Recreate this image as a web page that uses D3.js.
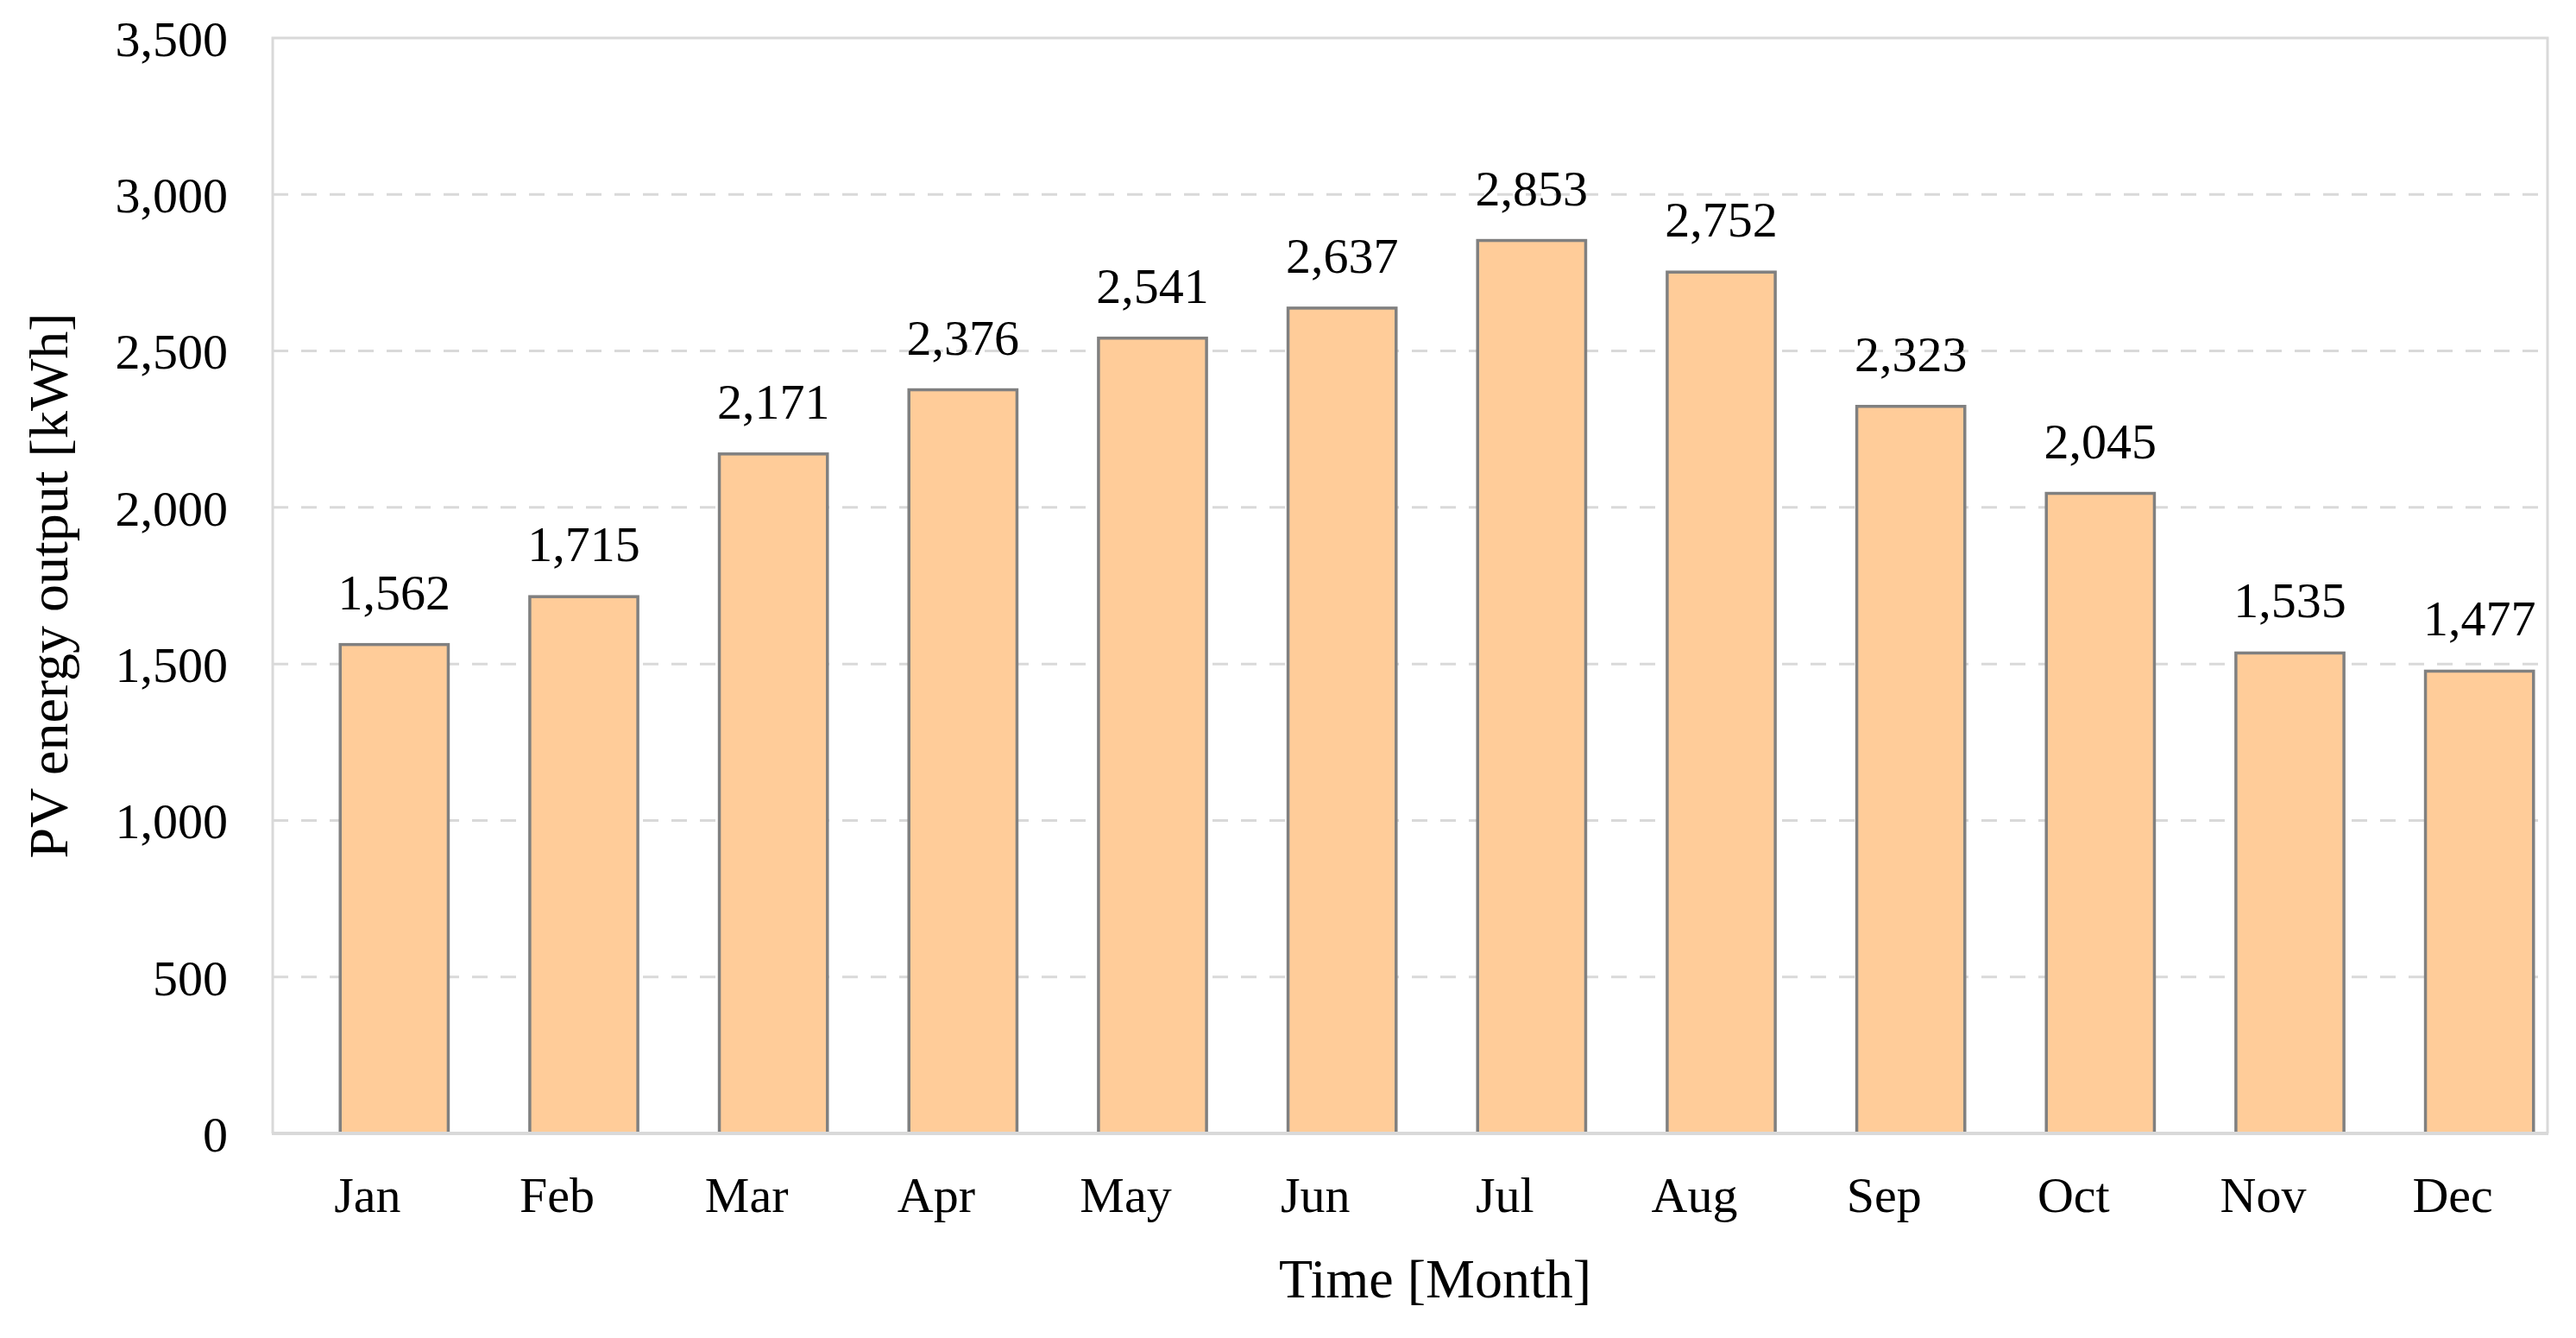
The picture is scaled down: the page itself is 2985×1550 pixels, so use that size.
<!DOCTYPE html>
<html>
<head>
<meta charset="utf-8">
<script src="https://cdn.jsdelivr.net/npm/d3@7"></script>
<style>
  html, body { margin: 0; padding: 0; background: #fff; }
  svg { display: block; }
  text { font-family: "Liberation Serif", "Times New Roman", serif; fill: #000; }
</style>
</head>
<body>
<svg id="chart" width="2985" height="1550"></svg>
<script>
const months = ["Jan","Feb","Mar","Apr","May","Jun","Jul","Aug","Sep","Oct","Nov","Dec"];
const pvOutput = [1562, 1715, 2171, 2376, 2541, 2637, 2853, 2752, 2323, 2045, 1535, 1477];
const yTicks = [0, 500, 1000, 1500, 2000, 2500, 3000, 3500];
const xTitle = "Time [Month]";
const yTitle = "PV energy output [kWh]";

const W = 2985, H = 1550;
const plot = { left: 316, right: 2952, top: 44, bottom: 1313 };
const barShift = 31;

const svg = d3.select("#chart");
const fmt = d3.format(",");

const x = d3.scaleBand().domain(months).range([plot.left, plot.right])
  .paddingInner(0.43).paddingOuter(0.215);
const y = d3.scaleLinear().domain([0, 3500]).range([plot.bottom, plot.top]);

// gridlines
svg.append("g").selectAll("line")
  .data(yTicks.filter(t => t > 0 && t < 3500))
  .join("line")
  .attr("x1", plot.left).attr("x2", plot.right)
  .attr("y1", d => y(d)).attr("y2", d => y(d))
  .attr("stroke", "#d9d9d9").attr("stroke-width", 3)
  .attr("stroke-dasharray", "18,15");

// frame
svg.append("path")
  .attr("d", `M${plot.left},${plot.bottom}V${plot.top}H${plot.right}V${plot.bottom}`)
  .attr("fill", "none").attr("stroke", "#d9d9d9").attr("stroke-width", 3);

// bars
svg.append("g").selectAll("rect")
  .data(months.map((m, i) => ({ m, v: pvOutput[i] })))
  .join("rect")
  .attr("x", d => x(d.m) + barShift)
  .attr("width", x.bandwidth())
  .attr("y", d => y(d.v))
  .attr("height", d => y(0) - y(d.v))
  .attr("fill", "#ffcc99")
  .attr("stroke", "#808080").attr("stroke-width", 3.5);

// bottom axis line
svg.append("line")
  .attr("x1", plot.left - 1).attr("x2", plot.right + 1)
  .attr("y1", y(0)).attr("y2", y(0))
  .attr("stroke", "#d9d9d9").attr("stroke-width", 4);

// data labels
svg.append("g").selectAll("text")
  .data(months.map((m, i) => ({ m, v: pvOutput[i] })))
  .join("text")
  .attr("x", d => x(d.m) + barShift + x.bandwidth() / 2)
  .attr("y", d => y(d.v) - 41)
  .attr("text-anchor", "middle")
  .attr("font-size", 58)
  .text(d => fmt(d.v));

// y tick labels
const yAxis = d3.axisLeft(y).tickValues(yTicks).tickFormat(fmt).tickSize(0).tickPadding(0);
const gy = svg.append("g").attr("transform", `translate(264,0)`).call(yAxis);
gy.select(".domain").remove();
gy.selectAll("text").attr("font-size", 58).attr("font-family", "Liberation Serif, serif").attr("fill", "#000").attr("dy", "0.35em");

// x tick labels
const xAxis = d3.axisBottom(x).tickSize(0).tickPadding(0);
const gx = svg.append("g").attr("transform", `translate(0,0)`).call(xAxis);
gx.select(".domain").remove();
gx.selectAll("text").attr("font-size", 58).attr("font-family", "Liberation Serif, serif")
  .attr("fill", "#000").attr("y", 1404).attr("dy", 0);

// axis titles
svg.append("text")
  .attr("x", 1663).attr("y", 1503)
  .attr("text-anchor", "middle").attr("font-size", 64)
  .text(xTitle);

svg.append("text")
  .attr("transform", `translate(78,${(plot.top + plot.bottom) / 2}) rotate(-90)`)
  .attr("text-anchor", "middle").attr("font-size", 64)
  .text(yTitle);
</script>
</body>
</html>
